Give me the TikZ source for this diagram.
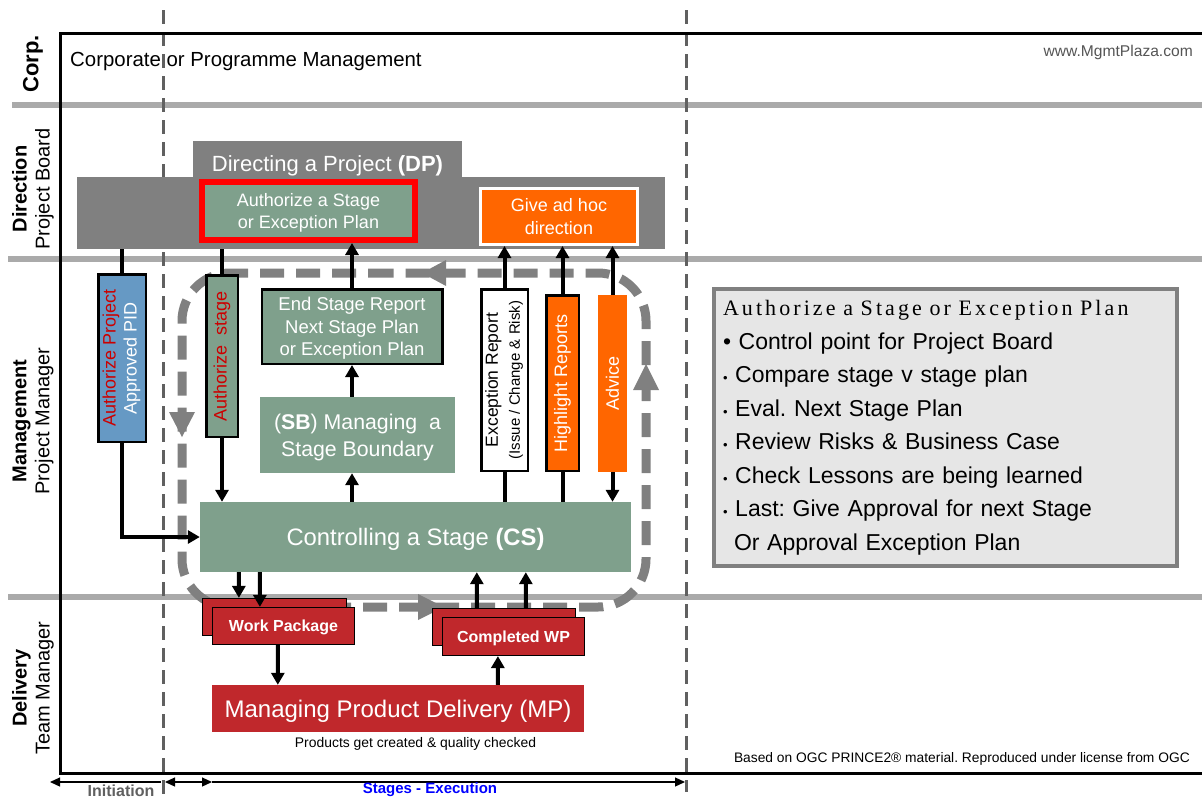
\documentclass[tikz,border=0pt]{standalone}
\usepackage{fontspec}
\setmainfont{Liberation Sans}
\newfontfamily\titleserif[LetterSpace=14]{Liberation Serif}
\usetikzlibrary{arrows.meta, positioning}

\definecolor{psGreen}{RGB}{127,160,140}
\definecolor{psRed}{RGB}{192,40,44}
\definecolor{psBlue}{RGB}{102,153,196}
\definecolor{psOrange}{RGB}{255,102,0}
\definecolor{dpGray}{RGB}{128,128,128}
\definecolor{laneGray}{RGB}{170,170,170}
\definecolor{phaseGray}{RGB}{96,96,96}
\definecolor{loopGray}{RGB}{128,128,128}
\definecolor{infoFill}{RGB}{230,230,230}
\definecolor{noteGray}{RGB}{85,85,85}
\definecolor{authRed}{RGB}{204,0,0}

\newcommand\fsz[2]{\fontsize{#1}{#2}\selectfont}

\begin{document}
\begin{tikzpicture}[x=1pt, y=-1pt]
    \tikzset{
        lane line/.style={draw=laneGray, line width=6pt},
        phase line/.style={draw=phaseGray, line width=3pt, dash pattern=on 14pt off 8pt},
        frame line/.style={draw=black, line width=3pt},
        lane label/.style={rotate=90, align=center, inner sep=0pt, font=\fsz{20}{23}},
        box/.style={rectangle, inner sep=0pt, align=center, text=white, text depth=0pt},
        green box/.style={box, fill=psGreen},
        bar box/.style={box, draw=black, line width=2.5pt},
        red box/.style={box, fill=psRed, draw=black, line width=1.2pt, font=\fsz{16}{19}\bfseries},
        link/.style={line width=4pt},
        flow/.style={link, -{Triangle[width=13pt,length=12pt]}},
        span/.style={line width=1.2pt, {Triangle[width=9pt,length=10pt]}-{Triangle[width=9pt,length=10pt]}},
        loop line/.style={draw=loopGray, line width=9pt, dash pattern=on 24pt off 12pt, rounded corners=48pt},
        loop tip/.style={fill=loopGray}
    }
    \useasboundingbox (0,0) rectangle (1202,798);

    % lanes, phases and frame
    \draw[lane line] (12,105) -- (1202,105);
    \draw[lane line] (8,259) -- (1202,259);
    \draw[lane line] (8,597) -- (1202,597);
    \draw[phase line] (163,10) -- (163,798);
    \draw[phase line] (686,10) -- (686,792);
    \draw[frame line] (1202,33) -- (60,33) -- (60,773) -- (1202,773);

    % lane labels
    \node[lane label, font=\fsz{22}{26}\bfseries] (corp) at (33,64) {Corp.};
    \node[lane label] (direction) at (33,189) {\textbf{Direction}\\Project Board};
    \node[lane label] (management) at (33,421) {\textbf{Management}\\Project Manager};
    \node[lane label] (delivery) at (33,688) {\textbf{Delivery}\\Team Manager};
    \node[anchor=west, inner sep=0pt, font=\fsz{20.4}{24}] (corporate) at (70,61) {Corporate or Programme Management};
    \node[anchor=east, inner sep=0pt, text=noteGray, font=\fsz{15.6}{18}] (site) at (1193,52) {www.MgmtPlaza.com};

    % stage loop
    \draw[loop line] (440,273) -- (182,273) -- (182,607) -- (646,607) -- (646,273) -- cycle;
    \fill[loop tip] (422,273) -- (446,260) -- (446,286) -- cycle;
    \fill[loop tip] (182,437) -- (169,412) -- (195,412) -- cycle;
    \fill[loop tip] (444,607) -- (418,594) -- (418,620) -- cycle;
    \fill[loop tip] (646,364) -- (633,390) -- (659,390) -- cycle;

    % directing a project
    \node[box, fill=dpGray, minimum width=269, minimum height=45, font=\fsz{22}{26}] (dptab) at (327.5,163.5) {Directing a Project \textbf{(DP)}};
    \node[box, fill=dpGray, minimum width=588, minimum height=72] (dp) at (371,213) {};
    \node[green box, draw=red, line width=6pt, minimum width=213, minimum height=58, font=\fsz{18}{22}] (asep) at (308.5,211) {Authorize a Stage\\or Exception Plan};
    \node[box, fill=psOrange, draw=white, line width=3pt, minimum width=157, minimum height=56, font=\fsz{18}{23.5}] (adhoc) at (559,216.5) {Give ad hoc\\direction};

    % managing a stage
    \node[bar box, fill=psBlue, minimum width=47.5, minimum height=167.5, font=\fsz{18}{21}] (apid) at (122,358) {\rotatebox{90}{\begin{tabular}{@{}c@{}}\textcolor{authRed}{Authorize Project}\\Approved PID\end{tabular}}};
    \node[bar box, fill=psGreen, minimum width=31.5, minimum height=161.5, font=\fsz{18}{21}] (astage) at (222,356) {\rotatebox{90}{\textcolor{authRed}{Authorize\ \ stage}}};
    \node[bar box, fill=psGreen, minimum width=180.5, minimum height=74.5, font=\fsz{18.5}{22.5}] (esr) at (352,326.5) {End Stage Report\\Next Stage Plan\\or Exception Plan};
    \node[green box, minimum width=195, minimum height=76, font=\fsz{21.3}{27}] (sb) at (357.5,435) {(\textbf{SB}) Managing\ \ a\\Stage Boundary};
    \node[green box, minimum width=431, minimum height=70, font=\fsz{23.8}{28}] (cs) at (415.5,537) {Controlling a Stage \textbf{(CS)}};
    \node[bar box, fill=white, text=black, minimum width=46.5, minimum height=181.5, font=\fsz{17.5}{22}] (exr) at (504.5,380) {\rotatebox{90}{\begin{tabular}{@{}c@{}}Exception Report\\\fsz{15}{18}(Issue / Change \& Risk)\end{tabular}}};
    \node[bar box, fill=psOrange, minimum width=32.5, minimum height=175.5, font=\fsz{18}{21}] (hr) at (562.5,383) {\rotatebox{90}{Highlight Reports}};
    \node[box, fill=psOrange, minimum width=29, minimum height=177, font=\fsz{18}{21}] (advice) at (612.5,383.5) {\rotatebox{90}{Advice}};

    % managing product delivery
    \node[red box, minimum width=144, minimum height=37] (wpback) at (274.5,617) {};
    \node[red box, minimum width=142, minimum height=37] (wpfront) at (283.5,626) {Work Package};
    \node[red box, minimum width=143, minimum height=37] (cwpback) at (504,627) {};
    \node[red box, minimum width=142, minimum height=38] (cwpfront) at (513.5,636.5) {Completed WP};
    \node[box, fill=psRed, minimum width=372, minimum height=47, font=\fsz{24}{28}] (mp) at (398,708.5) {Managing Product Delivery (MP)};
    \node[inner sep=0pt, font=\fsz{13.9}{16}] (mpnote) at (415.5,744) {Products get created \& quality checked};

    % flows
    \draw[link] (apid.north) -- (apid.north |- dp.south);
    \draw[flow] (apid.south) |- (cs.west);
    \draw[link] (astage.north) -- (astage.north |- dp.south);
    \draw[flow] (astage.south) -- (astage.south |- cs.north);
    \draw[flow] (cs.north -| esr.south) -- (sb.south -| esr.south);
    \draw[flow] (sb.north -| esr.south) -- (esr.south);
    \draw[flow] (esr.north) -- (esr.north |- asep.south);
    \draw[link] (cs.north -| exr.south) -- (exr.south);
    \draw[flow] (exr.north) -- (exr.north |- adhoc.south);
    \draw[link] (cs.north -| hr.south) -- (hr.south);
    \draw[flow] (hr.north) -- (hr.north |- adhoc.south);
    \draw[flow] (advice.north) -- (advice.north |- adhoc.south);
    \draw[flow] (advice.south) -- (advice.south |- cs.north);
    \draw[flow] ([xshift=39pt]cs.south west) -- ([xshift=37pt]wpback.north west);
    \draw[flow] ([xshift=60pt]cs.south west) -- ([xshift=48pt]wpfront.north west);
    \draw[flow] ([xshift=66pt]wpfront.south west) -- ([xshift=66pt]mp.north west);
    \draw[flow] ([xshift=45pt]cwpback.north west) -- ([xshift=277pt]cs.south west);
    \draw[flow] ([xshift=94pt]cwpback.north west) -- ([xshift=326pt]cs.south west);
    \draw[flow] ([xshift=286pt]mp.north west) -- ([xshift=56pt]cwpfront.south west);

    % key points of the process
    \node[draw=dpGray, line width=4pt, fill=infoFill, minimum width=463, minimum height=277, inner sep=0pt, text width=445, align=left, font=\fsz{23}{33.5}\frenchspacing] (info) at (945.5,427.5) {{\titleserif\fsz{22}{33.5}Authorize a Stage or Exception Plan}\\
        • Control point for Project Board\\
        {\fsz{13}{33.5}•} Compare stage v stage plan\\
        {\fsz{13}{33.5}•} Eval. Next Stage Plan\\
        {\fsz{13}{33.5}•} Review Risks \& Business Case\\
        {\fsz{13}{33.5}•} Check Lessons are being learned\\
        {\fsz{13}{33.5}•} Last: Give Approval for next Stage\\
        \hspace*{11pt}Or Approval Exception Plan};

    % phases
    \coordinate (init left) at (50,782);
    \coordinate (init right) at (161,782);
    \coordinate (stage left) at (165,782);
    \coordinate (stage mid) at (212,782);
    \coordinate (stage right) at (685,782);
    \draw[span, {Triangle[width=9pt,length=10pt]}-] (init left) -- (init right);
    \draw[span] (stage left) -- (stage mid);
    \draw[span, -{Triangle[width=9pt,length=10pt]}] (stage mid) -- (stage right);
    \node[anchor=south, inner sep=0pt, font=\fsz{16}{19}\bfseries, text=phaseGray] (initiation) at (121,797) {Initiation};
    \node[anchor=south, inner sep=0pt, font=\fsz{15}{18}\bfseries, text=blue] (stages) at (430,797) {Stages - Execution};
    \node[anchor=east, inner sep=0pt, font=\fsz{13.8}{17}\frenchspacing] (source) at (1190,759) {Based on OGC PRINCE2® material. Reproduced under license from OGC};
\end{tikzpicture}
\end{document}
